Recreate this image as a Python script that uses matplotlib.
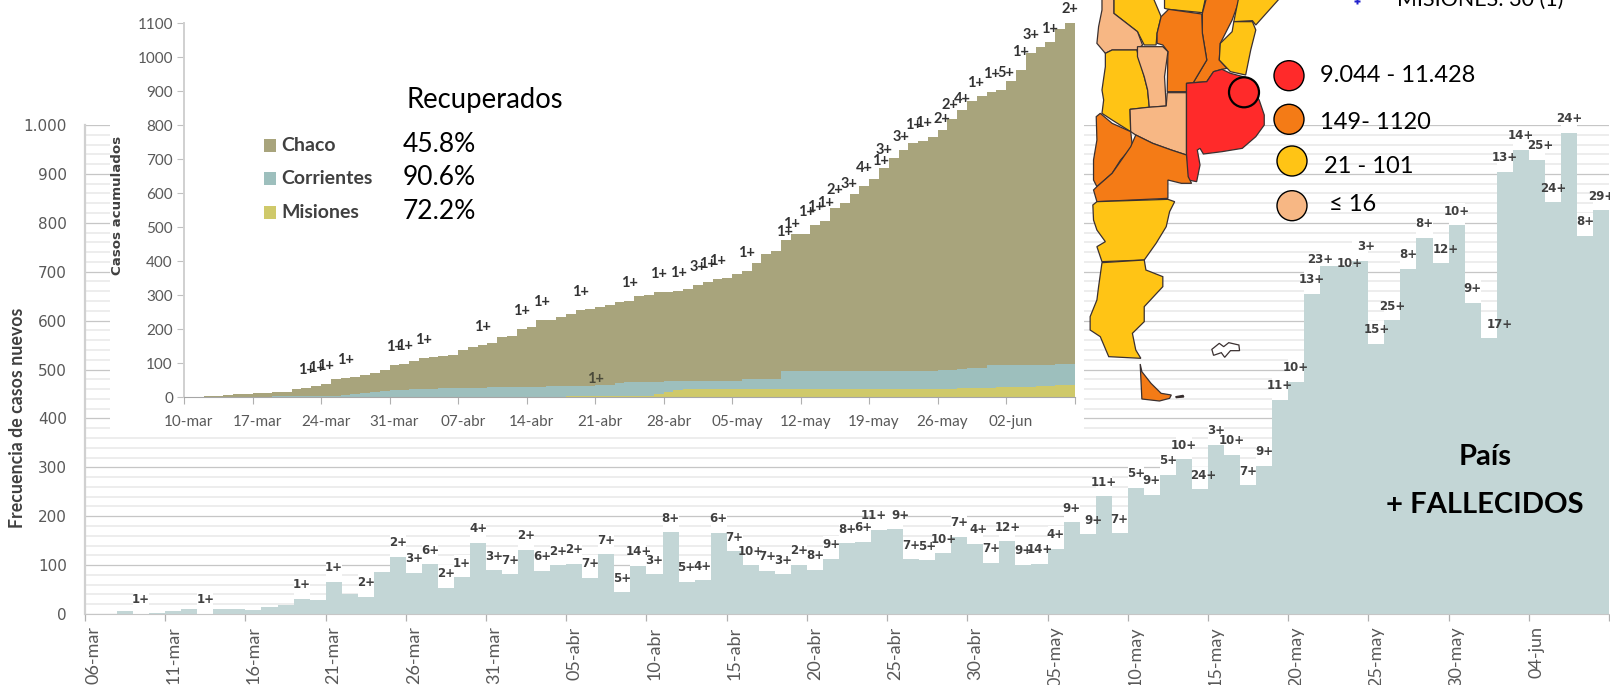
import numpy as np
import matplotlib
matplotlib.use("Agg")
import matplotlib.pyplot as plt
from matplotlib.patches import Polygon, Circle, Rectangle
from matplotlib.ticker import FuncFormatter, MultipleLocator

# ---------- data ----------
pais_fechas = ["06-mar","11-mar","16-mar","21-mar","26-mar","31-mar","05-abr","10-abr","15-abr","20-abr",
               "25-abr","30-abr","05-may","10-may","15-may","20-may","25-may","30-may","04-jun"]
pais_casos = [0,0,6,1,2,6,11,1,11,11, 8,14,18,31,29,66,41,35,86,117,
              84,102,54,75,146,89,81,131,88,100, 103,74,122,44,99,81,167,66,69,166,
              128,100,88,81,101,90,113,145,148,172, 173,112,110,124,158,144,105,149,101,103,
              133,188,163,241,165,258,244,285,316,255, 346,326,263,303,438,475,655,712,712,722,
              553,601,706,769,717,795,637,564,904,949, 929,842,984,774,826]
pais_fallecidos = ["","","","1+","","","","1+","","",
                   "","","","1+","","1+","","2+","","2+",
                   "3+","6+","2+","1+","4+","3+","7+","2+","6+","2+",
                   "2+","7+","7+","5+","14+","3+","8+","5+","4+","6+",
                   "7+","10+","7+","3+","2+","8+","9+","8+","6+","11+",
                   "9+","7+","5+","10+","7+","4+","7+","12+","9+","14+",
                   "4+","9+","9+","11+","7+","5+","9+","5+","10+","24+",
                   "3+","10+","7+","9+","11+","10+","13+","23+","10+","3+",
                   "15+","25+","8+","8+","12+","10+","9+","17+","13+","14+",
                   "25+","24+","24+","8+","29+"]

nea_fechas = ["10-mar","17-mar","24-mar","31-mar","07-abr","14-abr","21-abr","28-abr",
              "05-may","12-may","19-may","26-may","02-jun"]
nea_total = [2,2,5,5,8,11,11,14,14,15, 17,23,27,32,40,54,57,59,67,70,
             80,94,97,107,115,119,122,123,139,147, 155,161,176,179,200,208,226,227,237,245,
             256,260,264,271,279,284,297,302,308,310, 311,317,330,340,347,350,361,370,394,420,
             431,463,479,479,507,519,555,572,596,620, 641,675,702,728,747,754,766,787,818,845,
             871,886,896,904,929,962,1011,1028,1045,1081, 1118]
nea_corr_mis = [0,0,0,0,0,0,0,0,0,3, 3,3,4,4,4,4,6,10,14,16,
                18,20,21,23,25,25,26,26,26,26, 27,29,30,30,30,30,30,32,32,32,
                32,34,35,37,41,44,46,46,46,48, 48,48,48,48,48,48,48,54,54,54,
                54,77,77,77,77,77,77,77,77,77, 77,77,77,77,77,77,77,80,80,83,
                85,85,94,94,94,94,94,95,95,97, 97]
nea_misiones = [0,0,0,0,0,0,0,0,0,0, 0,0,2,2,2,2,2,2,2,2,
                2,2,2,2,2,2,2,2,2,2, 2,2,2,2,2,2,2,2,2,5,
                5,5,5,5,5,5,5,5,9,17, 22,25,25,25,25,25,25,25,25,25,
                25,25,25,25,25,25,25,25,25,25, 25,25,25,25,25,25,25,25,25,28,
                28,28,28,30,30,30,30,33,33,35, 35]
nea_fallecidos_dia = [12,13,14,16,21,22,24,30,34,36,40,45,48,50,52,53,54,57,60,61,63,64,65,
                      66,67,69,70,71,72,74,75,76,78,79,80,82,83,85,86,87,90]
nea_fallecidos = ["1+","1+","1+","1+","1+","1+","1+","1+","1+","1+","1+","1+","1+","1+","3+","1+","1+",
                  "1+","1+","1+","1+","1+","1+","2+","3+","4+","1+","3+","3+","1+","1+","2+","2+",
                  "4+","1+","1+","5+","1+","3+","1+","2+"]
provincias = ["Chaco","Corrientes","Misiones"]
recuperados = ["45.8%","90.6%","72.2%"]
escala_mapa = ["9.044 - 11.428","149- 1120","21 - 101","≤ 16"]

# ---------- layout ----------
W, H = 1610, 685
C_BAR = "#C3D6D6"
C_CHACO, C_CORR, C_MIS = "#A8A47C", "#9DBFBD", "#CFC96A"
C_RED, C_ORG, C_YEL, C_PEA = "#FF2A2A", "#F47B16", "#FFC415", "#F7B784"
TXT = "#404040"
TICK = "#595959"
SANS = "Lato"

def box(x0, y0, x1, y1):
    return [x0 / W, 1 - y1 / H, (x1 - x0) / W, (y1 - y0) / H]

plt.rcParams["font.family"] = [SANS, "DejaVu Sans"]
fig = plt.figure(figsize=(W / 100, H / 100), dpi=100, facecolor="white")

# ---------- main chart ----------
ax = fig.add_axes(box(85, 125, 1609, 614), zorder=1)
n = len(pais_casos)
xp = np.arange(n) + 0.5
ax.set_xlim(0, n)
ax.set_ylim(0, 1000)
ax.set_axisbelow(True)
ax.yaxis.set_major_locator(MultipleLocator(100))
ax.yaxis.set_minor_locator(MultipleLocator(20))
ax.grid(which="minor", axis="y", color="#EDEDED", lw=1.4, zorder=0.5)
ax.grid(which="major", axis="y", color="#C6C6C6", lw=0.9, zorder=0.6)
ax.yaxis.set_major_formatter(FuncFormatter(lambda v, p: f"{int(v):,}".replace(",", ".")))
ax.tick_params(axis="y", which="both", length=0, pad=13, labelsize=11, labelcolor=TICK)
for t in ax.get_yticklabels():
    t.set_family("DejaVu Sans")

has_label = np.array([1 if s else 0 for s in pais_fallecidos])
ax.bar(xp, has_label * 46, bottom=pais_casos, width=1, color="white", lw=0, zorder=1.5, antialiased=False)
ax.bar(xp, pais_casos, width=1, color=C_BAR, lw=0, zorder=2, antialiased=False)

main_nudge = {49: (-5, 0), 50: (5, 0), 55: (3, 0), 62: (6, 0), 69: (3, 0), 77: (-8, -8), 78: (5, -12),
              79: (6, 0), 84: (5, 0), 87: (11, 0), 90: (3, 0)}
for i, s in enumerate(pais_fallecidos):
    if s:
        dx, dy = main_nudge.get(i, (0, 0))
        ax.annotate(s, (xp[i], pais_casos[i]), xytext=(dx, 14 + dy), textcoords="offset pixels",
                    ha="center", va="center", fontsize=8.5, fontweight="bold", color=TXT,
                    family="DejaVu Sans", zorder=4, annotation_clip=False)

for k in ("top", "right"):
    ax.spines[k].set_visible(False)
ax.spines["left"].set_color("#D0D0D0")
ax.spines["left"].set_linewidth(1.6)
ax.spines["bottom"].set_color("#C6C6C6")
ax.set_xticks(np.arange(0, n + 1, 5))
ax.set_xticklabels([])
ax.tick_params(axis="x", which="major", length=5, color="#B0B0B0", width=0.9)
ax.set_xticks(np.arange(len(pais_fechas)) * 5 + 0.5, minor=True)
ax.set_xticklabels(pais_fechas, minor=True, rotation=90, fontsize=13, color=TICK, va="top", ha="center")
ax.tick_params(axis="x", which="minor", length=0, pad=9)

# ---------- overlay in pixel coordinates: white panel, map, legend, texts ----------
ov = fig.add_axes([0, 0, 1, 1], zorder=2)
ov.set_xlim(0, W)
ov.set_ylim(H, 0)
ov.axis("off")
ov.patch.set_alpha(0)
ov.add_patch(Rectangle((110, -2), 1084 - 110, 432, fc="white", ec="none", zorder=1))

def mp(pts):
    return [(1080 + x / 2.958, y / 3.0) for x, y in pts]

mapa = [
    (C_YEL, [(100,-10),(215,-10),(240,50),(228,100),(225,135),(190,135),(170,95),(100,40)]),
    (C_PEA, [(65,-10),(100,-10),(100,40),(170,95),(185,135),(168,150),(120,150),(95,150),(75,160),(50,130),(55,80),(65,30)]),
    (C_YEL, [(250,-10),(372,-10),(362,38),(262,28),(250,25)]),
    (C_ORG, [(375,-10),(475,-10),(450,60),(415,130),(412,180),(435,205),(420,208),(395,215),(375,245),(335,248),(375,180),(362,100),(362,40)]),
    (C_YEL, [(470,-10),(595,-10),(520,75),(510,62),(455,65)]),
    (C_YEL, [(455,65),(510,65),(520,90),(505,150),(490,225),(445,215),(412,180),(415,130),(450,95)]),
    (C_ORG, [(228,100),(240,50),(262,28),(360,42),(362,100),(375,180),(335,248),(315,250),(315,275),(258,275),(260,155),(245,135),(228,130)]),
    (C_YEL, [(75,160),(95,150),(168,150),(190,230),(200,270),(205,322),(148,328),(150,395),(95,360),(65,340),(70,300),(65,270),(75,200)]),
    (C_PEA, [(170,140),(245,140),(260,155),(250,230),(255,318),(205,322),(200,270),(190,230),(170,170)]),
    (C_PEA, [(148,328),(200,322),(255,318),(258,278),(315,278),(315,465),(270,450),(215,430),(165,405),(150,395)]),
    (C_RED, [(315,250),(338,248),(375,245),(395,215),(420,208),(445,220),(490,232),(530,300),(545,345),(545,375),(520,410),(480,445),(420,455),(365,462),(355,445),(347,450),(355,495),(345,545),(320,540),(315,510)]),
    (C_ORG, [(48,350),(60,340),(95,370),(150,395),(155,440),(120,480),(95,520),(50,560),(40,540),(40,480),(50,420)]),
    (C_ORG, [(165,405),(215,430),(270,450),(315,465),(320,530),(330,550),(300,550),(260,540),(260,595),(50,605),(40,570),(50,560),(95,520),(150,440)]),
    (C_YEL, [(38,615),(50,605),(260,598),(280,605),(265,635),(255,680),(225,730),(190,780),(65,785),(50,740),(75,725),(50,690),(40,660)]),
    (C_YEL, [(65,788),(190,780),(195,810),(245,830),(245,860),(190,920),(190,965),(155,1000),(165,1050),(180,1075),(85,1070),(60,1010),(30,990),(30,950),(50,900),(55,860)]),
    (C_ORG, [(178,1092),(183,1115),(210,1150),(240,1180),(270,1185),(265,1195),(235,1203),(183,1197)]),
    ("white", [(390,1048),(412,1030),(425,1040),(440,1028),(470,1035),(472,1052),(445,1052),(428,1072),(418,1058),(395,1066)]),
    ("#222222", [(283,1190),(305,1186),(307,1191),(285,1193)]),
]
for col, pts in mapa:
    ov.add_patch(Polygon(mp(pts), closed=True, fc=col, ec="#3A3030", lw=0.9, zorder=3))

ov.add_patch(Circle((1244, 92.3), 15, fc=C_RED, ec="black", lw=1.6, zorder=4))
for (cx, cy), col in zip([(1289, 75.7), (1289, 119.3), (1292, 161), (1292, 205.7)], [C_RED, C_ORG, C_YEL, C_PEA]):
    ov.add_patch(Circle((cx, cy), 15, fc=col, ec="black", lw=1.0, zorder=4))
for (tx, ty), s in zip([(1320, 75), (1320, 122), (1324, 166), (1329, 204)], escala_mapa):
    ov.text(tx, ty, s, fontsize=17, color="black", va="center", ha="left", zorder=5)

ov.text(1397, 6, "MISIONES: 30 (1)", fontsize=15.4, color="black", va="baseline", ha="left", zorder=5)
ov.plot([1357], [1], marker="P", ms=5, color="#2222CC", mec="none", zorder=5)

ov.text(406, 100, "Recuperados", fontsize=19.8, color="black", va="center", ha="left", zorder=5)
for yy, col, name, pct in zip([145, 178.6, 212], [C_CHACO, C_CORR, C_MIS], provincias, recuperados):
    ov.add_patch(Rectangle((264, yy - 6.5), 12, 13, fc=col, ec="none", zorder=5))
    ov.text(281, yy, name, fontsize=14, fontweight="bold", color=TXT, va="center", ha="left", zorder=5)
    ov.text(403, yy - 1, pct, fontsize=19, color="black", va="center", ha="left", zorder=5)

ov.text(117, 205, "Casos acumulados", rotation=90, fontsize=9.6, fontweight="bold", color=TXT,
        family="DejaVu Sans", va="center", ha="center", zorder=5)
ov.text(18, 418, "Frecuencia de casos nuevos", rotation=90, fontsize=12.8, fontweight="bold", color=TXT,
        va="center", ha="center", zorder=5)
ov.text(1485, 457, "País", fontsize=21, fontweight="bold", color="black", va="center", ha="center", zorder=5)
ov.text(1485, 505, "+ FALLECIDOS", fontsize=21, fontweight="bold", color="black", va="center", ha="center", zorder=5)

# ---------- inset chart ----------
ins = fig.add_axes(box(184, 23, 1074.7, 397.3), zorder=3)
ins.patch.set_alpha(0)
m = len(nea_total)
xq = np.arange(m) + 0.5
total = np.array(nea_total)
corr_mis = np.array(nea_corr_mis)
misiones = np.array(nea_misiones)
ins.set_xlim(0, m)
ins.set_ylim(0, 1100)
ins.bar(xq, misiones, width=1, color=C_MIS, lw=0, antialiased=False, zorder=2)
ins.bar(xq, corr_mis - misiones, bottom=misiones, width=1, color=C_CORR, lw=0, antialiased=False, zorder=2)
ins.bar(xq, total - corr_mis, bottom=corr_mis, width=1, color=C_CHACO, lw=0, antialiased=False, zorder=2)

ins_nudge = {60: (8, 1), 61: (5, -2), 63: (1, 4), 67: (4, 1), 70: (6, 0), 72: (7, 3), 76: (9, 0), 78: (-2, -4),
             79: (0, -7), 80: (4, 0), 83: (4, -1), 87: (9, 0), 90: (0, -10)}
for i, s in zip(nea_fallecidos_dia, nea_fallecidos):
    dx, dy = ins_nudge.get(i, (0, 0))
    ins.annotate(s, (xq[i], total[i]), xytext=(dx, 18 + dy), textcoords="offset pixels",
                 ha="center", va="center", fontsize=10.5, fontweight="bold", color="#333333",
                 zorder=4, annotation_clip=False)
ins.annotate("1+", (xq[42], corr_mis[42]), xytext=(-5, 6), textcoords="offset pixels",
             ha="center", va="center", fontsize=10.5, fontweight="bold", color="#4A4A3A", zorder=4)

for k in ("top", "right"):
    ins.spines[k].set_visible(False)
ins.spines["left"].set_color("#D0D0D0")
ins.spines["left"].set_linewidth(1.4)
ins.spines["bottom"].set_color("#A6A6A6")
ins.set_yticks(np.arange(0, 1101, 100))
ins.tick_params(axis="y", length=5, color="#C0C0C0", labelsize=11, labelcolor=TICK, pad=3)
ins.set_xticks(np.arange(0, m + 1, 7))
ins.set_xticklabels([])
ins.tick_params(axis="x", which="major", length=5, color="#B0B0B0")
ins.set_xticks(np.arange(len(nea_fechas)) * 7 + 0.5, minor=True)
ins.set_xticklabels(nea_fechas, minor=True, fontsize=11, color=TICK)
ins.tick_params(axis="x", which="minor", length=0, pad=13)

fig.savefig("out.png", dpi=100, facecolor="white")
